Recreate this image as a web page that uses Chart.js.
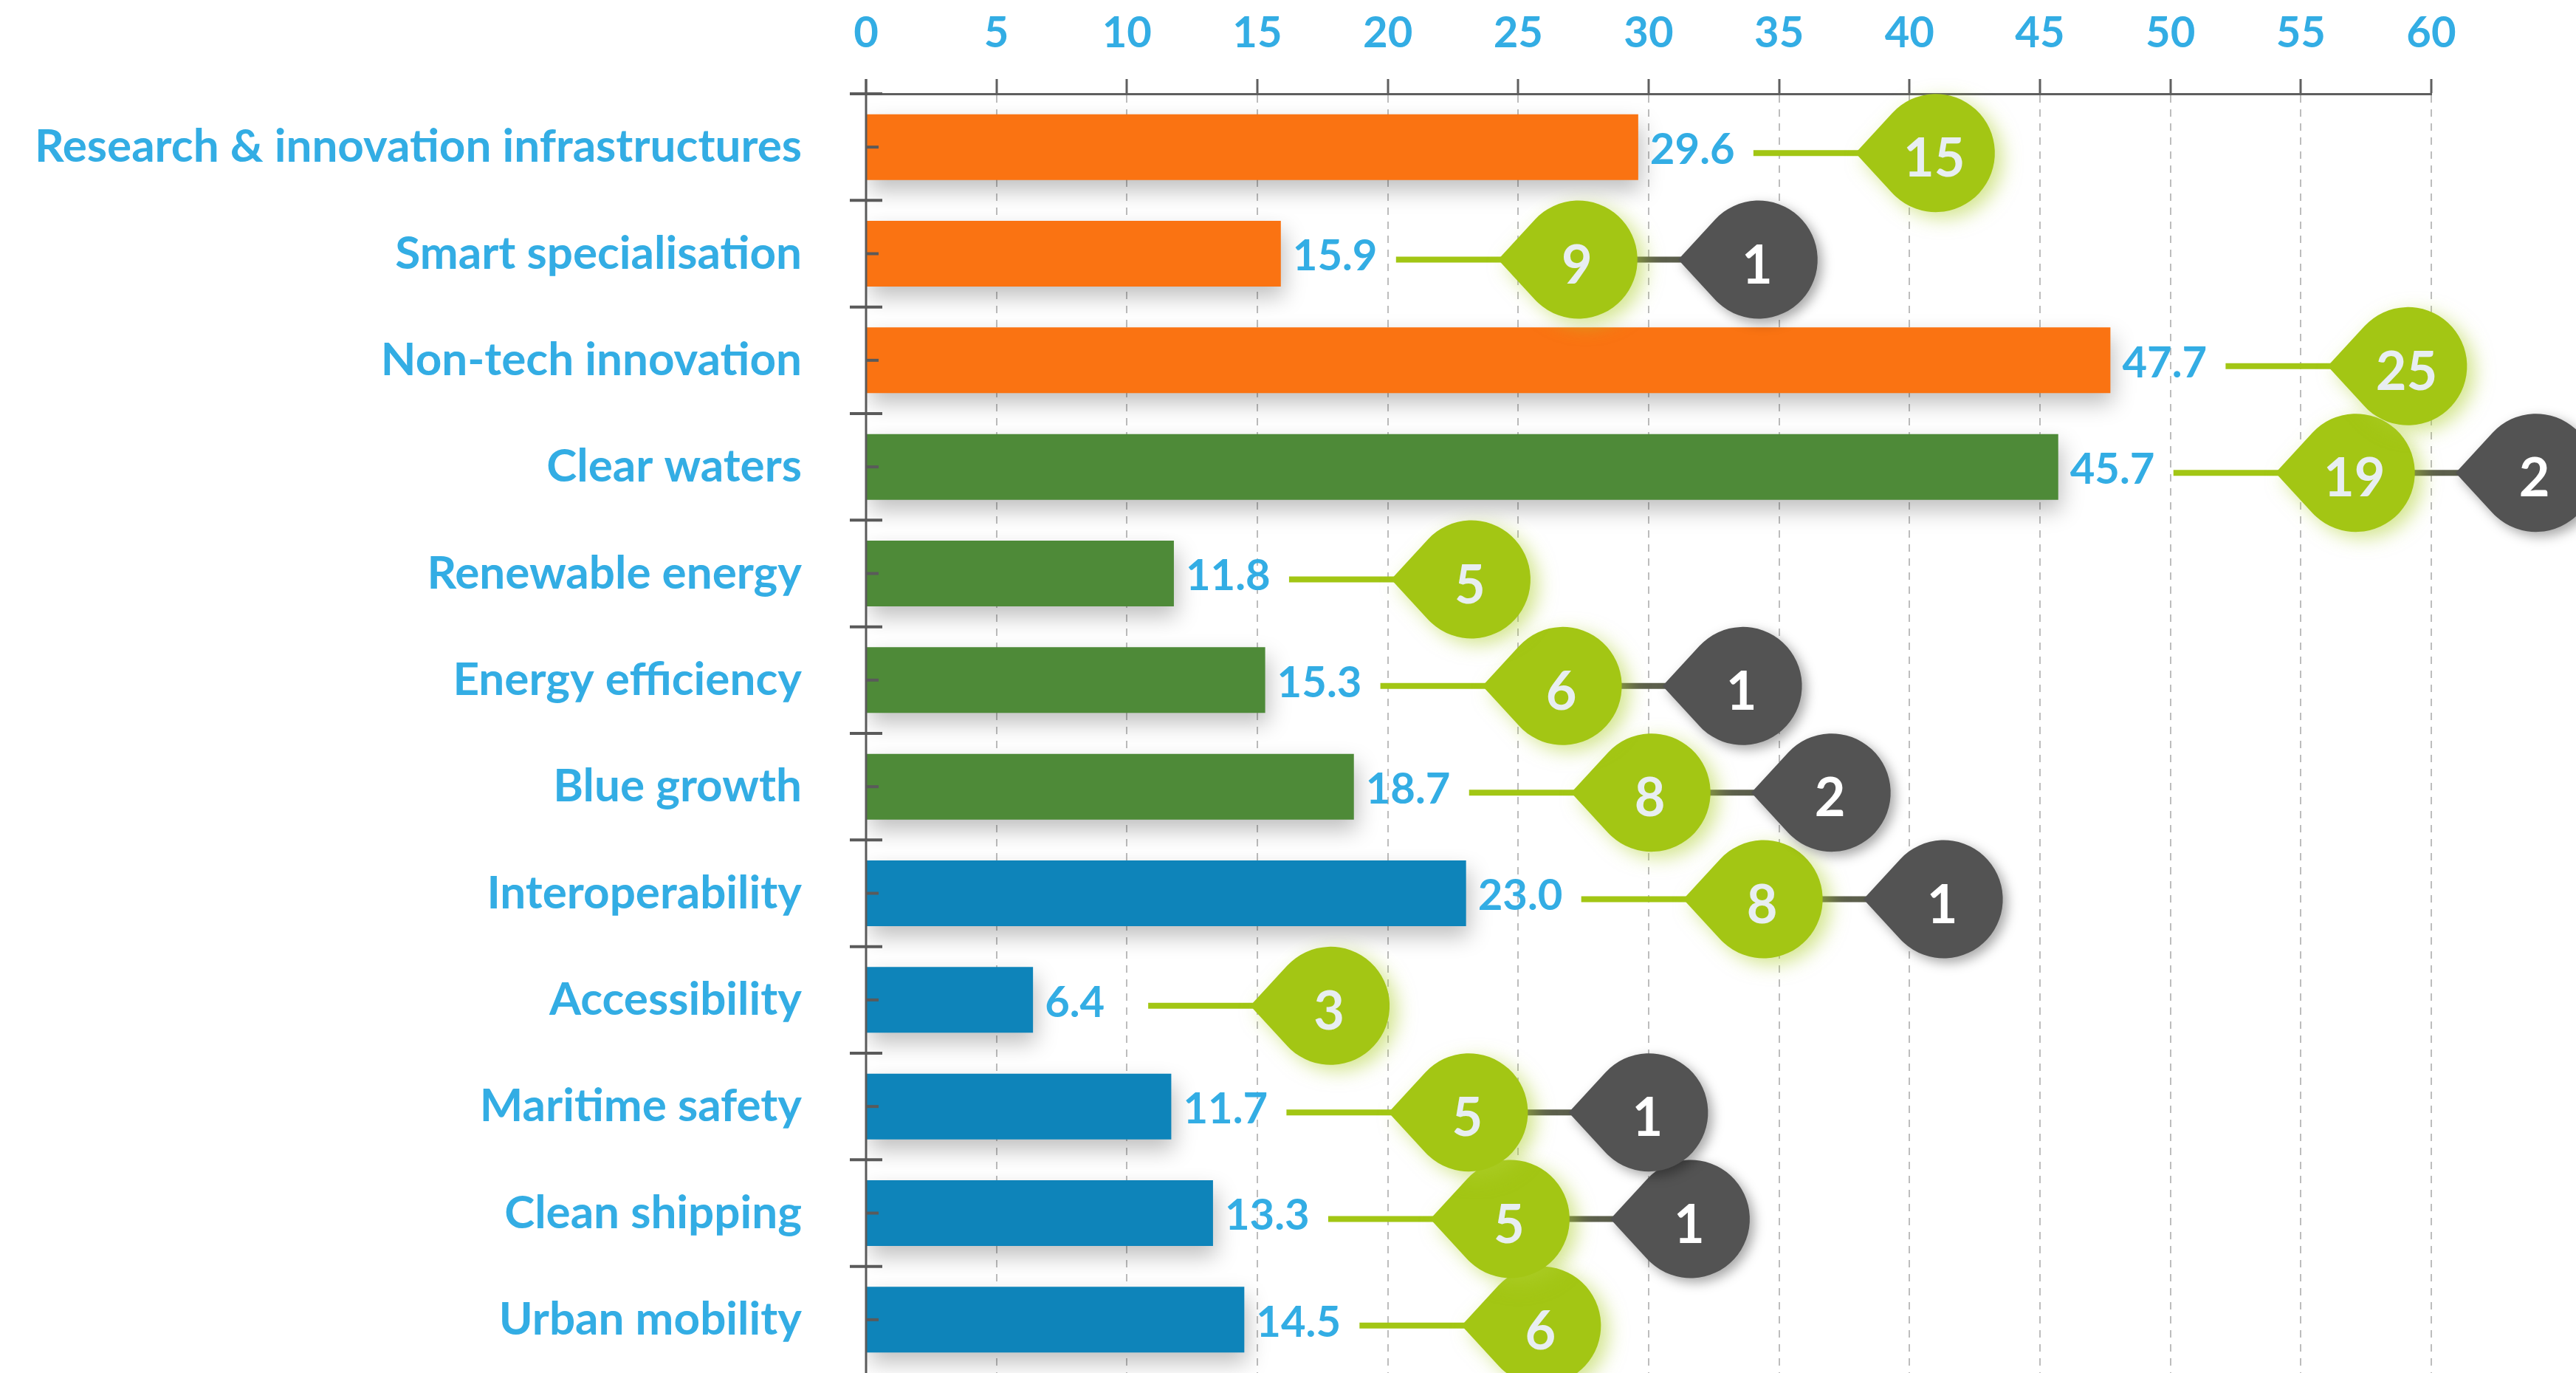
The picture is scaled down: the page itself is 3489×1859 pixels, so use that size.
<!DOCTYPE html>
<html>
<head>
<meta charset="utf-8">
<script src="https://cdn.jsdelivr.net/npm/chart.js@4"></script>
<style>
  html, body { margin: 0; padding: 0; background: #fff; }
  #wrap { width: 3489px; height: 1859px; position: relative; }
</style>
</head>
<body>
<div id="wrap"><canvas id="topicChart"></canvas></div>
<script>
// Values
const categories = [
    'Research & innovation infrastructures', 'Smart specialisation', 'Non-tech innovation',
    'Clear waters', 'Renewable energy', 'Energy efficiency', 'Blue growth',
    'Interoperability', 'Accessibility', 'Maritime safety', 'Clean shipping', 'Urban mobility'
];
const values = [29.6, 15.9, 47.7, 45.7, 11.8, 15.3, 18.7, 23.0, 6.4, 11.7, 13.3, 14.5];
const greenCounts = [15, 9, 25, 19, 5, 6, 8, 8, 3, 5, 5, 6];
const greyCounts = [null, 1, null, 2, null, 1, 2, 1, null, 1, 1, null];
const groups = ['orange', 'orange', 'orange', 'green', 'green', 'green', 'green',
                'blue', 'blue', 'blue', 'blue', 'blue'];
const xTicks = [0, 5, 10, 15, 20, 25, 30, 35, 40, 45, 50, 55, 60];

const groupColors = { orange: '#FA7312', green: '#4E8A38', blue: '#0E84BA' };
const textBlue = '#33ADE4';
const fontFamily = 'Lato, "Open Sans", sans-serif';

function drawDrop(ctx, cx, cy, r, color, shadow, label, textColor) {
    const d = r * 1.36;
    const a = Math.acos(r / d);
    ctx.save();
    ctx.shadowColor = shadow.color;
    ctx.shadowBlur = shadow.blur;
    ctx.shadowOffsetX = shadow.dx;
    ctx.shadowOffsetY = shadow.dy;
    ctx.fillStyle = color;
    ctx.beginPath();
    ctx.moveTo(cx - d, cy);
    ctx.lineTo(cx + r * Math.cos(Math.PI + a), cy + r * Math.sin(Math.PI + a));
    ctx.arc(cx, cy, r, Math.PI + a, Math.PI - a, false);
    ctx.closePath();
    ctx.fill();
    ctx.restore();

    ctx.fillStyle = textColor;
    ctx.font = 'bold 72px ' + fontFamily;
    ctx.textAlign = 'center';
    ctx.textBaseline = 'middle';
    ctx.fillText(String(label), cx - 2, cy + 9);
}

function hLine(ctx, x1, x2, y, color, w) {
    ctx.strokeStyle = color;
    ctx.lineWidth = w;
    ctx.beginPath();
    ctx.moveTo(x1, y);
    ctx.lineTo(x2, y);
    ctx.stroke();
}

const decorPlugin = {
    id: 'decor',
    beforeDatasetsDraw(chart) {
        const ctx = chart.ctx;
        ctx.save();
        ctx.shadowColor = 'rgba(0,0,0,0.25)';
        ctx.shadowBlur = 28;
        ctx.shadowOffsetX = 4;
        ctx.shadowOffsetY = 14;
    },
    afterDatasetsDraw(chart) {
        const ctx = chart.ctx;
        ctx.restore();
        const area = chart.chartArea;
        const yScale = chart.scales.y;
        const band = (area.bottom - area.top) / categories.length;

        // y axis with its tick marks
        ctx.save();
        ctx.strokeStyle = '#5a5a5a';
        ctx.lineWidth = 3;
        ctx.beginPath();
        ctx.moveTo(area.left, area.top - 20);
        ctx.lineTo(area.left, area.bottom);
        ctx.stroke();
        categories.forEach((c, i) => {
            const yc = yScale.getPixelForValue(i);
            hLine(ctx, area.left - 22, area.left + 22, yc - band / 2, '#5a5a5a', 4);
            hLine(ctx, area.left, area.left + 17, yc, '#5a5a5a', 4);
        });
        ctx.restore();

        // labels, connectors and drops, drawn bottom row first
        const bars = chart.getDatasetMeta(0).data;
        for (let i = bars.length - 1; i >= 0; i--) {
            const bar = bars[i];
            const bx = bar.x;
            const cy = bar.y;
            const gy = cy + 8;
            const gx = bx + 403;
            const R = 80;

            ctx.save();
            ctx.fillStyle = textBlue;
            ctx.font = 'bold 58px ' + fontFamily;
            ctx.textAlign = 'left';
            ctx.textBaseline = 'middle';
            ctx.fillText(values[i].toFixed(1), bx + 16, cy + 4);

            hLine(ctx, bx + 156, gx - R * 1.3, gy, '#A2C614', 8);
            if (greyCounts[i] != null) {
                const dx = gx + 244;
                hLine(ctx, gx + R - 10, dx - R * 1.3, gy, '#5c5f4c', 8);
                drawDrop(ctx, gx, gy, R, '#A3C614',
                    { color: 'rgba(175,208,50,0.55)', blur: 26, dx: 10, dy: 8 },
                    greenCounts[i], '#E8EEF1');
                drawDrop(ctx, dx, gy, R, '#535353',
                    { color: 'rgba(0,0,0,0.35)', blur: 16, dx: 6, dy: 6 },
                    greyCounts[i], '#FFFFFF');
            } else {
                drawDrop(ctx, gx, gy, R, '#A3C614',
                    { color: 'rgba(175,208,50,0.55)', blur: 26, dx: 10, dy: 8 },
                    greenCounts[i], '#E8EEF1');
            }
            ctx.restore();
        }
    }
};

const ctx = document.getElementById('topicChart').getContext('2d');
const topicChart = new Chart(ctx, {
    type: 'bar',
    data: {
        labels: categories,
        datasets: [{
            data: values,
            backgroundColor: groups.map(g => groupColors[g]),
            borderWidth: 0,
            barPercentage: 0.617,
            categoryPercentage: 1
        }]
    },
    options: {
        indexAxis: 'y',
        responsive: true,
        maintainAspectRatio: false,
        animation: false,
        devicePixelRatio: 1,
        layout: { padding: { left: 0, right: 196, top: 0, bottom: 0 } },
        plugins: {
            legend: { display: false },
            tooltip: { enabled: false }
        },
        scales: {
            x: {
                position: 'top',
                min: xTicks[0],
                max: xTicks[xTicks.length - 1],
                afterBuildTicks: s => { s.ticks = xTicks.map(v => ({ value: v })); },
                afterFit: s => { s.height = 127; s.paddingLeft = 0; s.paddingRight = 0; },
                ticks: {
                    color: textBlue,
                    font: { family: fontFamily, weight: 'bold', size: 58 },
                    padding: 27
                },
                grid: {
                    color: '#BDBDBD',
                    lineWidth: 2,
                    tickColor: '#5f5f5f',
                    tickWidth: 3,
                    tickLength: 20,
                    tickBorderDash: []
                },
                border: { display: true, color: '#5f5f5f', width: 3, dash: [10, 9] }
            },
            y: {
                afterFit: s => { s.width = 1173; s.paddingTop = 0; s.paddingBottom = 0; },
                ticks: {
                    color: textBlue,
                    font: { family: fontFamily, weight: 'bold', size: 62 },
                    padding: 87
                },
                grid: { display: false, drawTicks: false },
                border: { display: false }
            }
        }
    },
    plugins: [decorPlugin]
});
</script>
</body>
</html>
